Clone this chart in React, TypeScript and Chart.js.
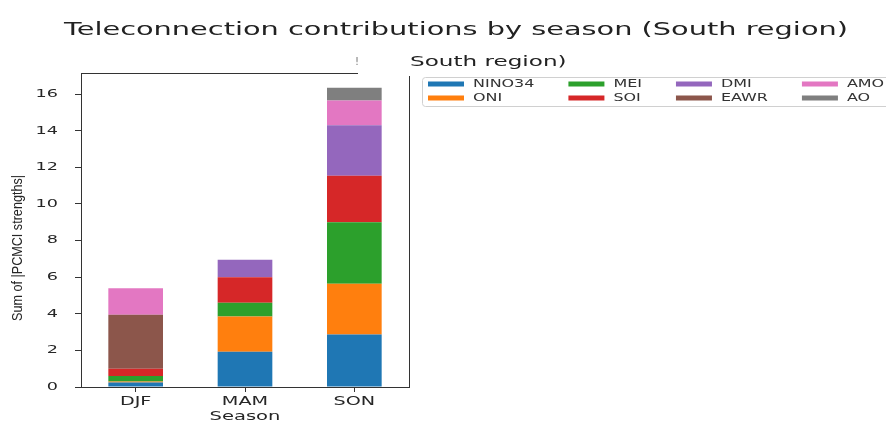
import React, { useEffect, useRef } from "react";
import { Chart, registerables } from "chart.js";

Chart.register(...registerables);

// ---------- data ----------
const seasons = ["DJF", "MAM", "SON"];
const seriesNames = ["NINO34", "ONI", "MEI", "SOI", "DMI", "EAWR", "AMO", "AO"];
const nino34 = [0.25, 1.93, 2.87];
const oni = [0.05, 1.92, 2.77];
const mei = [0.3, 0.75, 3.36];
const soi = [0.4, 1.4, 2.54];
const dmi = [0, 0.95, 2.75];
const eawr = [2.95, 0, 0];
const amo = [1.45, 0, 1.36];
const ao = [0, 0, 0.69];
const seriesValues = [nino34, oni, mei, soi, dmi, eawr, amo, ao];
const seriesColors = ["#1f77b4", "#ff7f0e", "#2ca02c", "#d62728", "#9467bd", "#8c564b", "#e377c2", "#7f7f7f"];
const yTickStep = 2;
const yMax = 17.15;

const titleText = "Teleconnection contributions by season (South region)";
const subTitleFragment = "South region)";
const fragmentMark = "!";
const xAxisTitle = "Season";
const yAxisTitle = "Sum of |PCMCI strengths|";

// ---------- layout constants ----------
const W = 886;
const H = 421;
const AREA_LEFT = 81;
const AREA_RIGHT = 409;
const AREA_TOP = 73;
const AREA_BOTTOM = 387;
const TOP_SPINE_END = 358;
const SX = 1.6;
const AXIS_COLOR = "#333333";
const TEXT_COLOR = "#262626";

function stretchedText(
  ctx: CanvasRenderingContext2D,
  text: string,
  x: number,
  y: number,
  font: string,
  sx: number,
  align: CanvasTextAlign,
  color: string,
  rotate = 0,
  sy = 1
) {
  ctx.save();
  ctx.font = font;
  ctx.fillStyle = color;
  ctx.textBaseline = "middle";
  ctx.textAlign = align;
  ctx.translate(x, y);
  if (rotate) ctx.rotate(rotate);
  ctx.scale(sx, sy);
  ctx.fillText(text, 0, 0);
  ctx.restore();
}

const decorPlugin = {
  id: "decor",
  afterDraw(chart: any) {
    const ctx: CanvasRenderingContext2D = chart.ctx;
    const area = chart.chartArea;
    ctx.save();
    // remaining spines
    ctx.strokeStyle = AXIS_COLOR;
    ctx.lineWidth = 1;
    ctx.beginPath();
    ctx.moveTo(area.left, area.top + 0.5);
    ctx.lineTo(TOP_SPINE_END, area.top + 0.5);
    ctx.stroke();
    ctx.beginPath();
    ctx.moveTo(area.right + 0.5, area.top + 3);
    ctx.lineTo(area.right + 0.5, area.bottom);
    ctx.stroke();
    ctx.restore();

    // tick labels from the library's scales
    const xs = chart.scales.x;
    const ys = chart.scales.y;
    ys.ticks.forEach((t: any, i: number) => {
      const py = ys.getPixelForTick(i);
      stretchedText(ctx, String(t.label), area.left - 23, py, '11px "DejaVu Sans"', SX, "right", TEXT_COLOR);
    });
    xs.ticks.forEach((t: any, i: number) => {
      const px = xs.getPixelForTick(i);
      stretchedText(ctx, String(t.label), px, area.bottom + 15, '12px "DejaVu Sans"', SX, "center", TEXT_COLOR);
    });

    // axis titles
    stretchedText(ctx, xAxisTitle, (area.left + area.right) / 2, area.bottom + 30, '13px "DejaVu Sans"', 1.5, "center", TEXT_COLOR);
    stretchedText(ctx, yAxisTitle, 18, 248, '13px "Liberation Sans"', 0.97, "center", TEXT_COLOR, -Math.PI / 2, 1.15);

    // titles
    stretchedText(ctx, titleText, 456, 30, '18px "DejaVu Sans"', 1.6, "center", "#222");
    stretchedText(ctx, fragmentMark, 357, 62, '10px "DejaVu Sans"', 1, "center", "#777");
    stretchedText(ctx, subTitleFragment, 410, 62, '14px "DejaVu Sans"', 1.65, "left", "#222");

    // legend
    const LX = 422;
    const LY = 77;
    const LH = 29;
    ctx.save();
    ctx.fillStyle = "rgba(255,255,255,0.8)";
    ctx.strokeStyle = "#d0d0d0";
    ctx.lineWidth = 1;
    ctx.beginPath();
    (ctx as any).roundRect(LX + 0.5, LY + 0.5, W - LX + 10, LH, 3);
    ctx.fill();
    ctx.stroke();
    ctx.restore();

    const ds = chart.data.datasets;
    const rows = 2;
    const cols = Math.ceil(ds.length / rows);
    const legFont = '11px "DejaVu Sans"';
    const LSX = 1.45;
    const HW = 36;
    const HH = 5;
    const GAP = 9;
    const COLSP = 34;
    const rowY = [84, 98];
    let x = 428;
    ctx.save();
    for (let c = 0; c < cols; c++) {
      let maxW = 0;
      for (let r = 0; r < rows; r++) {
        const d = ds[c * rows + r];
        if (!d) continue;
        ctx.font = legFont;
        const w = ctx.measureText(d.label).width * LSX;
        if (w > maxW) maxW = w;
        ctx.fillStyle = d.backgroundColor;
        ctx.fillRect(x, rowY[r] - HH / 2, HW, HH);
        stretchedText(ctx, d.label, x + HW + GAP, rowY[r], legFont, LSX, "left", "#333");
      }
      x += HW + GAP + maxW + COLSP;
    }
    ctx.restore();
  },
};

export default function App() {
  const canvasRef = useRef<HTMLCanvasElement | null>(null);

  useEffect(() => {
    const canvas = canvasRef.current;
    if (!canvas) return;
    const datasets = seriesNames.map((name, i) => ({
      label: name,
      data: seriesValues[i],
      backgroundColor: seriesColors[i],
      borderWidth: 0,
      categoryPercentage: 1,
      barPercentage: 0.5,
    }));
    const chart = new Chart(canvas, {
      type: "bar",
      data: { labels: seasons, datasets },
      plugins: [decorPlugin],
      options: {
        responsive: false,
        animation: false,
        devicePixelRatio: 1,
        layout: {
          padding: { left: 0, top: AREA_TOP, right: W - AREA_RIGHT, bottom: 0 },
        },
        plugins: {
          legend: { display: false },
          title: { display: false },
          tooltip: { enabled: false },
        },
        scales: {
          x: {
            stacked: true,
            offset: true,
            grid: {
              display: true,
              drawOnChartArea: false,
              drawTicks: true,
              tickLength: 5,
              color: AXIS_COLOR,
              offset: false,
            },
            border: { display: true, color: AXIS_COLOR, width: 1 },
            ticks: { display: false },
            title: { display: false },
            afterFit: (s: any) => {
              s.height = H - AREA_BOTTOM;
            },
          },
          y: {
            stacked: true,
            min: 0,
            max: yMax,
            grid: {
              display: true,
              drawOnChartArea: false,
              drawTicks: true,
              tickLength: 6,
              color: AXIS_COLOR,
            },
            border: { display: true, color: AXIS_COLOR, width: 1 },
            ticks: { display: false, stepSize: yTickStep },
            afterBuildTicks: (s: any) => {
              s.ticks = s.ticks.filter(
                (t: any) => Math.abs(t.value / yTickStep - Math.round(t.value / yTickStep)) < 1e-9
              );
            },
            title: { display: false },
            afterFit: (s: any) => {
              s.width = AREA_LEFT;
            },
          },
        },
      },
    });
    return () => chart.destroy();
  }, []);

  return (
    <div style={{ position: "absolute", left: 0, top: 0, width: W, height: H, background: "#fff" }}>
      <canvas ref={canvasRef} width={W} height={H} style={{ display: "block" }} />
    </div>
  );
}
